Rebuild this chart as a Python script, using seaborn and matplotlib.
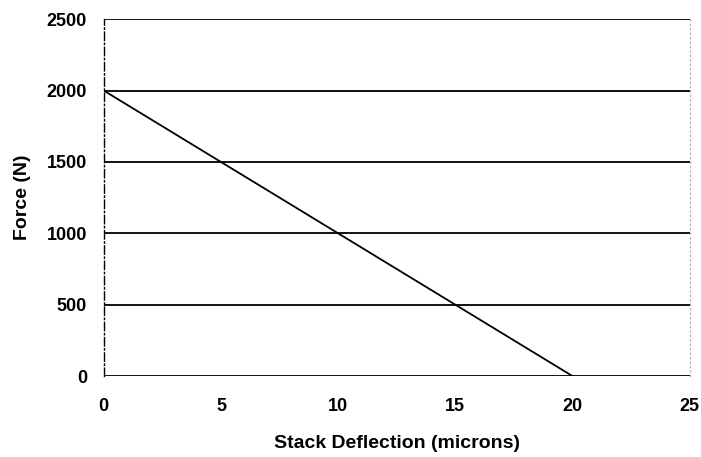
import matplotlib
matplotlib.use("Agg")
import matplotlib.pyplot as plt
import seaborn as sns
import pandas as pd

# data
deflection = [0, 20]
force = [2000, 0]
x_ticks = [0, 5, 10, 15, 20, 25]
y_ticks = [0, 500, 1000, 1500, 2000, 2500]

sns.set_style("white")
plt.rcParams["font.family"] = ["Liberation Sans", "DejaVu Sans"]
plt.rcParams["text.color"] = "black"
plt.rcParams["xtick.color"] = "black"
plt.rcParams["ytick.color"] = "black"
plt.rcParams["axes.labelcolor"] = "black"

fig = plt.figure(figsize=(7.01, 4.57), dpi=100)
ax = fig.add_axes([0.148, 0.177, 0.836, 0.781])

df = pd.DataFrame({"x": deflection, "y": force})
sns.lineplot(data=df, x="x", y="y", ax=ax, color="black", linewidth=1.3)

for v in y_ticks:
    ax.axhline(v, color="black", linewidth=1.3, zorder=1)

ax.set_xlim(0, 25)
ax.set_ylim(0, 2500)
ax.set_xticks(x_ticks)
ax.set_yticks(y_ticks)
ax.tick_params(length=0, labelsize=13)
ax.tick_params(axis="x", pad=16)
ax.tick_params(axis="y", pad=12)
for lab in ax.get_xticklabels() + ax.get_yticklabels():
    lab.set_fontweight("bold")

for s in ["top", "bottom"]:
    ax.spines[s].set_visible(False)
ax.spines["left"].set_linestyle((0, (6, 2, 1, 2)))
ax.spines["left"].set_linewidth(1.0)
ax.spines["left"].set_color("black")
ax.spines["right"].set_linestyle((0, (1, 3)))
ax.spines["right"].set_color("#aaaaaa")
ax.spines["right"].set_linewidth(0.8)

ax.set_xlabel("Stack Deflection (microns)", fontsize=14, fontweight="bold", labelpad=14)
ax.set_ylabel("Force (N)", fontsize=14, fontweight="bold", labelpad=11)

fig.savefig("out.png", dpi=100)
